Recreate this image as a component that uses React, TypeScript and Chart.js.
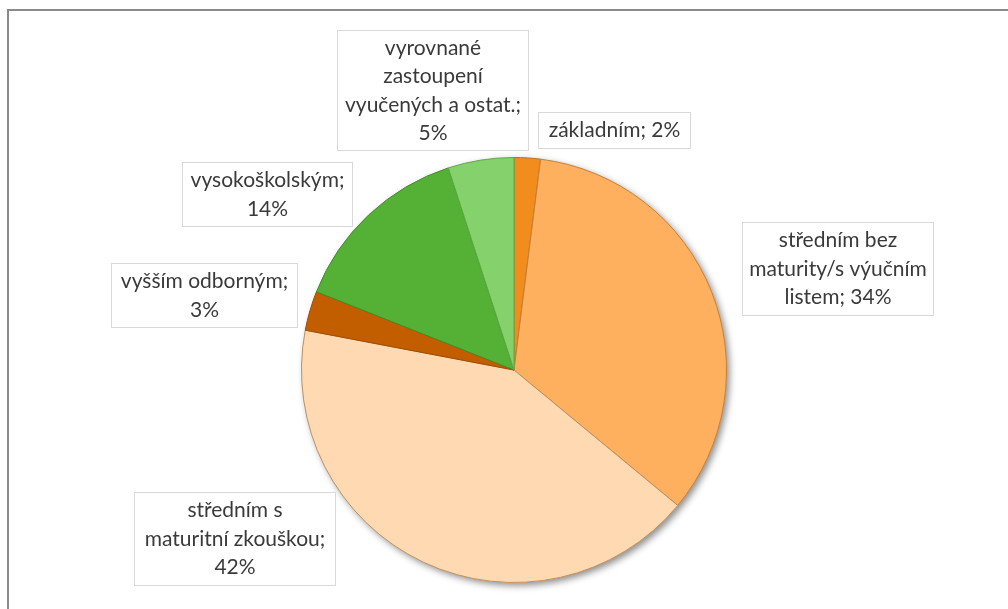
import React, { useEffect, useRef } from 'react';
import { Chart, registerables } from 'chart.js';

Chart.register(...registerables);

const CATEGORIES = [
  'základním',
  'středním bez maturity/s výučním listem',
  'středním s maturitní zkouškou',
  'vyšším odborným',
  'vysokoškolským',
  'vyrovnané zastoupení vyučených a ostat.',
];
const VALUES = [2, 34, 42, 3, 14, 5];
const FILL_COLORS = ['#F28C1C', '#FFB05F', '#FFD9B1', '#C35E00', '#54B135', '#85D26D'];
const BORDER_COLORS = ['#C0701A', '#C0803F', '#C0905E', '#A04C00', '#3E8F25', '#5FA84A'];

// label box layout [x, y, w, h]
const LABEL_BOXES = [
  [538, 112, 153, 37],
  [742, 222, 192, 94],
  [134, 492, 202, 94],
  [111, 263, 187, 65],
  [182, 162, 171, 65],
  [337, 30, 192, 121],
];
// word indices after which the label text wraps
const LABEL_BREAKS = [[], [1, 3], [1, 3], [1], [0], [0, 1, 4]];
const LABEL_FONT = '21px Lato';
const LINE_H = 28.5;

function splitLines(text: string, breaks: number[]): string[] {
  const words = text.split(' ');
  const lines: string[] = [];
  let cur: string[] = [];
  words.forEach((w, i) => {
    cur.push(w);
    if (breaks.includes(i)) {
      lines.push(cur.join(' '));
      cur = [];
    }
  });
  if (cur.length) lines.push(cur.join(' '));
  return lines;
}

const framePlugin = {
  id: 'frame',
  beforeDraw(chart: any) {
    const ctx = chart.ctx;
    ctx.save();
    ctx.strokeStyle = '#8a8a8a';
    ctx.lineWidth = 2;
    ctx.beginPath();
    ctx.moveTo(8, 640);
    ctx.lineTo(8, 10);
    ctx.lineTo(1040, 10);
    ctx.stroke();
    ctx.restore();
  },
};

const shadowPlugin = {
  id: 'pieShadow',
  beforeDatasetsDraw(chart: any) {
    const arc = chart.getDatasetMeta(0).data[0];
    if (!arc) return;
    const ctx = chart.ctx;
    ctx.save();
    ctx.shadowColor = 'rgba(0,0,0,0.45)';
    ctx.shadowBlur = 7;
    ctx.shadowOffsetX = 3;
    ctx.shadowOffsetY = 3;
    ctx.fillStyle = '#FFD9B1';
    ctx.beginPath();
    ctx.arc(arc.x, arc.y, arc.outerRadius, 0, Math.PI * 2);
    ctx.fill();
    ctx.restore();
  },
};

const labelPlugin = {
  id: 'boxLabels',
  afterDatasetsDraw(chart: any) {
    const ctx = chart.ctx;
    ctx.save();
    ctx.font = LABEL_FONT;
    ctx.textAlign = 'center';
    ctx.textBaseline = 'middle';
    CATEGORIES.forEach((cat, i) => {
      const [x, y, w, h] = LABEL_BOXES[i];
      ctx.fillStyle = '#ffffff';
      ctx.fillRect(x, y, w, h);
      ctx.strokeStyle = '#D9D9D9';
      ctx.lineWidth = 1;
      ctx.strokeRect(x + 0.5, y + 0.5, w - 1, h - 1);
      const lines = splitLines(`${cat}; ${VALUES[i]}%`, LABEL_BREAKS[i]);
      const startY = y + h / 2 - ((lines.length - 1) * LINE_H) / 2;
      ctx.fillStyle = '#3A3A3A';
      lines.forEach((ln, j) => ctx.fillText(ln, x + w / 2, startY + j * LINE_H));
    });
    ctx.restore();
  },
};

export default function App() {
  const ref = useRef<HTMLCanvasElement>(null);
  useEffect(() => {
    if (!ref.current) return;
    const chart = new Chart(ref.current, {
      type: 'pie',
      data: {
        labels: CATEGORIES,
        datasets: [
          {
            data: VALUES,
            backgroundColor: FILL_COLORS,
            borderColor: BORDER_COLORS,
            borderWidth: 1,
          },
        ],
      },
      options: {
        animation: false,
        responsive: true,
        maintainAspectRatio: false,
        layout: { padding: { left: 301, top: 157, right: 281, bottom: 26 } },
        plugins: {
          legend: { display: false },
          tooltip: { enabled: false },
        },
      },
      plugins: [framePlugin, shadowPlugin, labelPlugin],
    });
    return () => chart.destroy();
  }, []);
  return (
    <div style={{ position: 'fixed', left: 0, top: 0, width: 1008, height: 609, background: '#fff' }}>
      <canvas ref={ref} />
    </div>
  );
}
